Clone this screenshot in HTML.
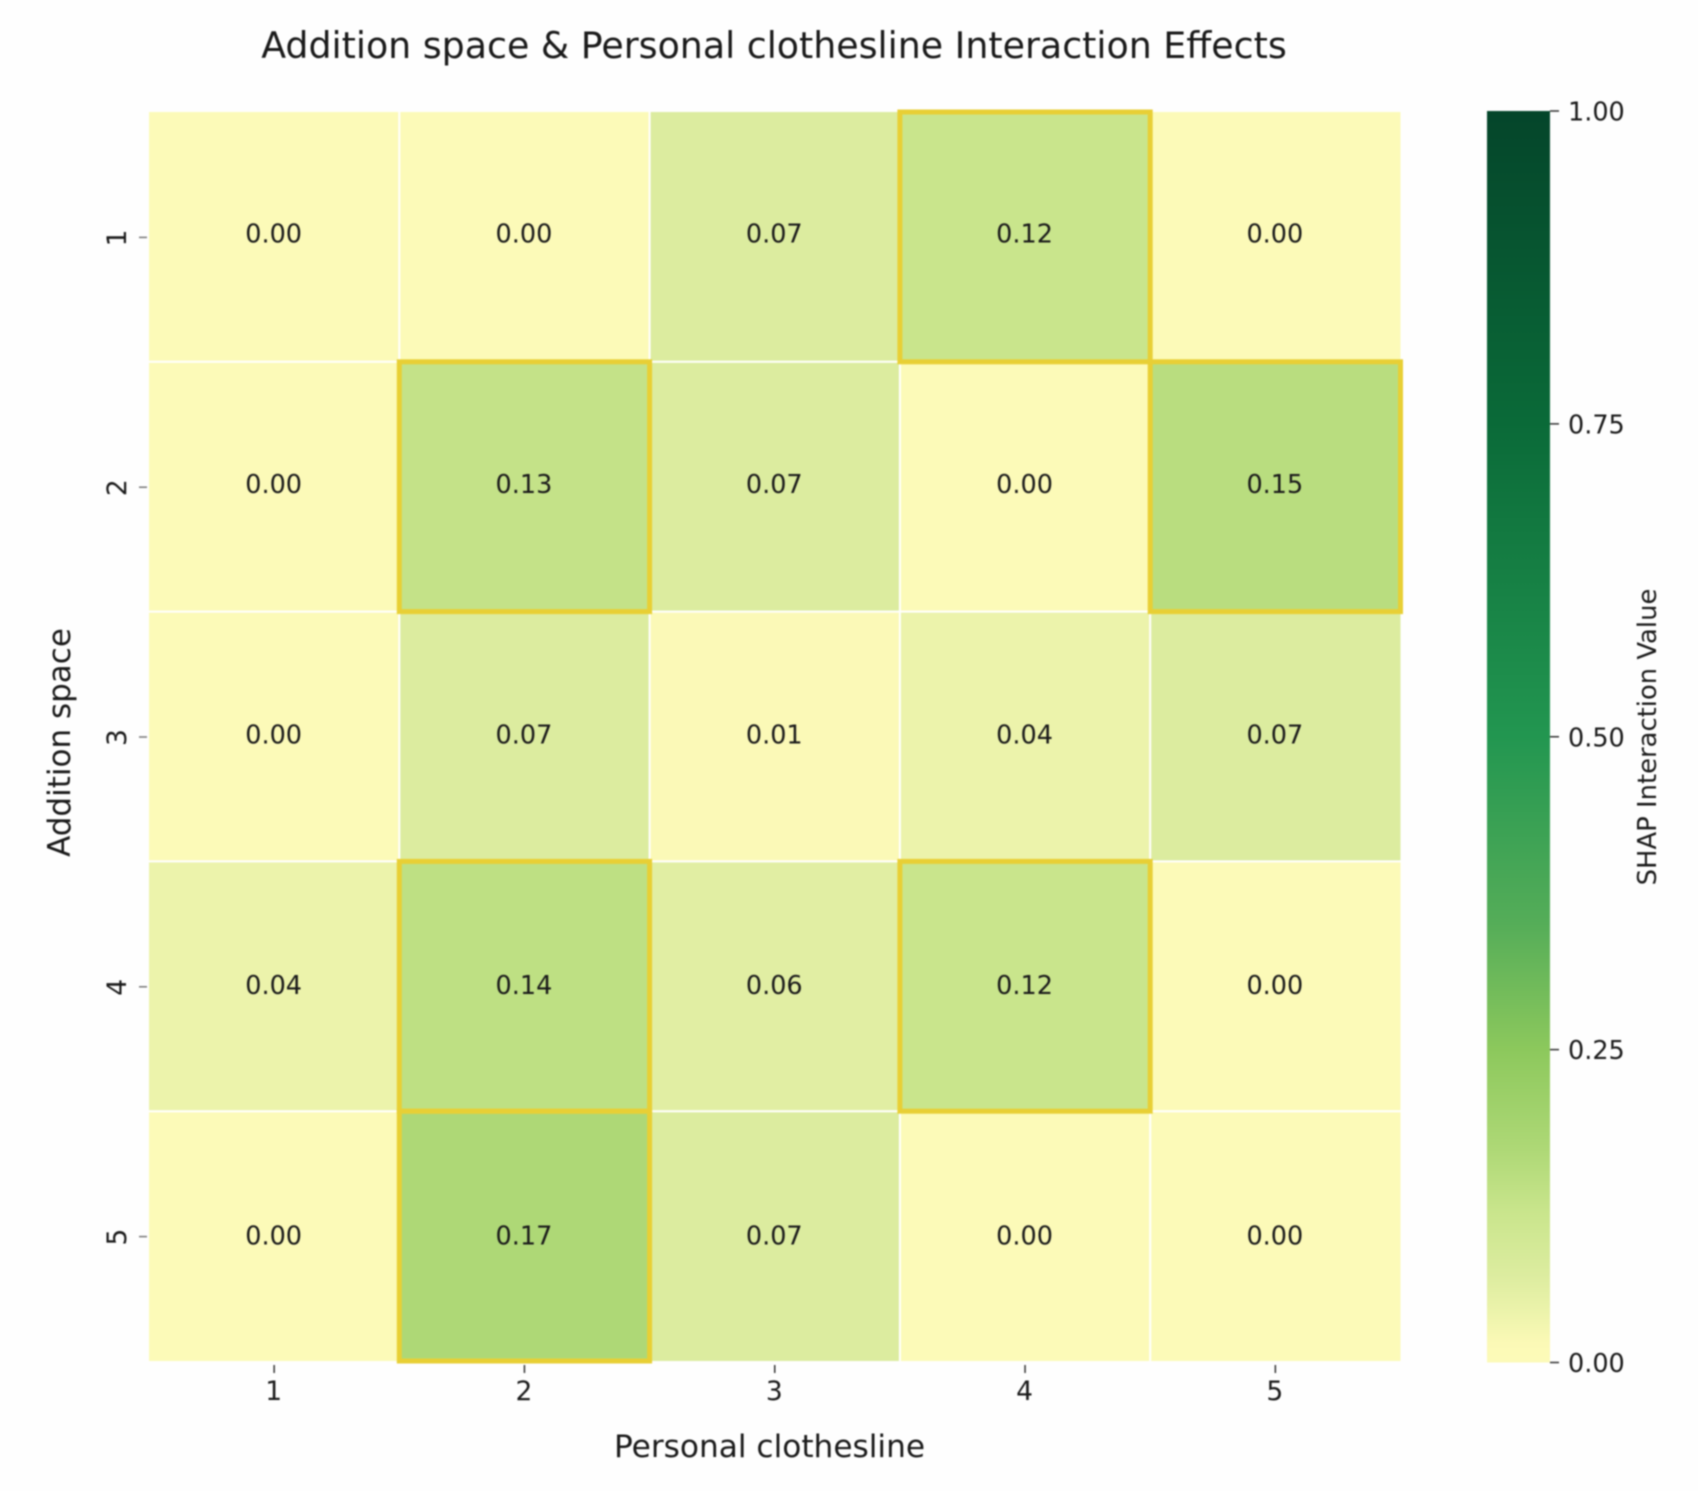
<!DOCTYPE html>
<html lang="en">
<head>
<meta charset="utf-8">
<title>Addition space &amp; Personal clothesline Interaction Effects</title>
<style>
html,body{margin:0;padding:0;background:#fefefe;}
#chart{display:block;width:1698px;height:1491px;filter:blur(0.7px);}
text{font-family:"DejaVu Sans","Liberation Sans",sans-serif;fill:#1a1a1a;}
</style>
</head>
<body>
<svg id="chart" xmlns="http://www.w3.org/2000/svg" width="1698" height="1491" viewBox="0 0 1698 1491">
  <defs>
    <linearGradient id="cbar-gradient" x1="0" y1="1" x2="0" y2="0"></linearGradient>
  </defs>
  <rect x="0" y="0" width="1698" height="1491" fill="#fefefe"></rect>
  <text x="774" y="58" text-anchor="middle" font-size="36.35">Addition space &amp; Personal clothesline Interaction Effects</text>
  <g id="cells"></g>
  <g id="gridlines"></g>
  <g id="highlights"></g>
  <g id="annotations"></g>
  <g id="x-axis"></g>
  <g id="y-axis"></g>
  <text x="769.5" y="1457" text-anchor="middle" font-size="31.2">Personal clothesline</text>
  <text transform="translate(70 742.5) rotate(-90)" text-anchor="middle" font-size="31">Addition space</text>
  <rect id="cbar" fill="url(#cbar-gradient)"></rect>
  <g id="cbar-axis"></g>
  <text transform="translate(1656 737) rotate(-90)" text-anchor="middle" font-size="25.85">SHAP Interaction Value</text>
</svg>
<script>
const columnLabels = ["1", "2", "3", "4", "5"];
const rowLabels = ["1", "2", "3", "4", "5"];
const row1Values = [0.00, 0.00, 0.07, 0.12, 0.00];
const row2Values = [0.00, 0.13, 0.07, 0.00, 0.15];
const row3Values = [0.00, 0.07, 0.01, 0.04, 0.07];
const row4Values = [0.04, 0.14, 0.06, 0.12, 0.00];
const row5Values = [0.00, 0.17, 0.07, 0.00, 0.00];
const colorbarTicks = [0, 0.25, 0.5, 0.75, 1];
const highlightThreshold = 0.1;
const colormapDomain = [0, 0.015, 0.04, 0.07, 0.12, 0.17, 0.25, 0.35, 0.5, 0.75, 1];
const colormapRange = ["#fcfab8", "#fbf9b6", "#ecf3ab", "#dcec9f", "#c9e58c", "#aed876", "#8cc85c", "#55ad58", "#229650", "#0a6a38", "#04452a"];

const matrix = [row1Values, row2Values, row3Values, row4Values, row5Values];
const SVGNS = "http://www.w3.org/2000/svg";

const plot = {left: 149, right: 1400.5, top: 112, bottom: 1361};
const cbarBox = {left: 1487, right: 1550, top: 111, bottom: 1362.5};

function xEdge(i) { return plot.left + (plot.right - plot.left) * i / columnLabels.length; }
function yEdge(i) { return plot.top + (plot.bottom - plot.top) * i / rowLabels.length; }
function xCenter(i) { return xEdge(i + 0.5) - 0.5; }
function yCenter(i) { return yEdge(i + 0.5); }
function cbarY(v) { return cbarBox.bottom + (cbarBox.top - cbarBox.bottom) * v; }

function hexToRgb(h) {
  return [parseInt(h.slice(1, 3), 16), parseInt(h.slice(3, 5), 16), parseInt(h.slice(5, 7), 16)];
}
function colorFor(v) {
  const clamped = Math.max(0, Math.min(1, v));
  let k = 0;
  while (k < colormapDomain.length - 2 && clamped > colormapDomain[k + 1]) k++;
  const t = (clamped - colormapDomain[k]) / (colormapDomain[k + 1] - colormapDomain[k]);
  const a = hexToRgb(colormapRange[k]);
  const b = hexToRgb(colormapRange[k + 1]);
  return "rgb(" + a.map(function (c, n) { return Math.round(c + (b[n] - c) * t); }).join(",") + ")";
}
function make(tag, parent, attrs) {
  const el = document.createElementNS(SVGNS, tag);
  Object.keys(attrs).forEach(function (k) { el.setAttribute(k, attrs[k]); });
  parent.appendChild(el);
  return el;
}

const cellsGroup = document.getElementById("cells");
const gridGroup = document.getElementById("gridlines");
const highlightGroup = document.getElementById("highlights");
const annotationGroup = document.getElementById("annotations");
const xAxisGroup = document.getElementById("x-axis");
const yAxisGroup = document.getElementById("y-axis");
const cbarAxisGroup = document.getElementById("cbar-axis");

matrix.forEach(function (rowValues, r) {
  rowValues.forEach(function (value, c) {
    const cell = make("rect", cellsGroup, {
      x: xEdge(c), y: yEdge(r),
      width: xEdge(c + 1) - xEdge(c), height: yEdge(r + 1) - yEdge(r),
      fill: colorFor(value)
    });
    
    

    if (value >= highlightThreshold) {
      const box = make("rect", highlightGroup, {
        x: xEdge(c), y: yEdge(r),
        width: xEdge(c + 1) - xEdge(c), height: yEdge(r + 1) - yEdge(r),
        fill: "none", stroke: "#e8cf35", "stroke-width": 5
      });
      
      
    }

    const label = make("text", annotationGroup, {
      x: xCenter(c), y: yCenter(r) + 8 - 3 * (1 - r / 4) + 0.5,
      "text-anchor": "middle", "font-size": 25.5
    });
    label.textContent = value.toFixed(2);
    
    
  });
});

columnLabels.forEach(function (text, i) {
  if (i > 0) {
    const vLine = make("line", gridGroup, {
      x1: xEdge(i), x2: xEdge(i), y1: plot.top, y2: plot.bottom, stroke: "#ffffff", "stroke-width": 2
    });
    
    
  }
  const tick = make("line", xAxisGroup, {
    x1: xCenter(i) + 0.5, x2: xCenter(i) + 0.5, y1: 1365, y2: 1373, stroke: "#333333", "stroke-width": 1.5
  });
  
  
  const label = make("text", xAxisGroup, {
    x: xCenter(i), y: 1400, "text-anchor": "middle", "font-size": 26.5
  });
  label.textContent = text;
  
  
});

rowLabels.forEach(function (text, i) {
  if (i > 0) {
    const hLine = make("line", gridGroup, {
      x1: plot.left, x2: plot.right, y1: yEdge(i), y2: yEdge(i), stroke: "#ffffff", "stroke-width": 2
    });
    
    
  }
  const tick = make("line", yAxisGroup, {
    x1: 139, x2: 147, y1: yCenter(i) + 0.5, y2: yCenter(i) + 0.5, stroke: "#777777", "stroke-width": 1.5
  });
  
  
  const label = make("text", yAxisGroup, {
    transform: "translate(126 " + (yCenter(i) + 1) + ") rotate(-90)", "text-anchor": "middle", "font-size": 26.5
  });
  label.textContent = text;
  
  
});

const gradient = document.getElementById("cbar-gradient");
colormapDomain.forEach(function (v) {
  const stop = make("stop", gradient, {offset: v, "stop-color": colorFor(v)});
  
  
});

const cbar = document.getElementById("cbar");
cbar.setAttribute("x", cbarBox.left);
cbar.setAttribute("y", cbarY(1));
cbar.setAttribute("width", cbarBox.right - cbarBox.left);
cbar.setAttribute("height", cbarY(0) - cbarY(1));

colorbarTicks.forEach(function (v) {
  const tick = make("line", cbarAxisGroup, {
    x1: cbarBox.right, x2: cbarBox.right + 9, y1: cbarY(v), y2: cbarY(v), stroke: "#333333", "stroke-width": 1.5
  });
  
  
  const label = make("text", cbarAxisGroup, {
    x: 1568, y: cbarY(v) + 9.5, "text-anchor": "start", "font-size": 25.5
  });
  label.textContent = v.toFixed(2);
  
  
});
</script>
</body>
</html>
